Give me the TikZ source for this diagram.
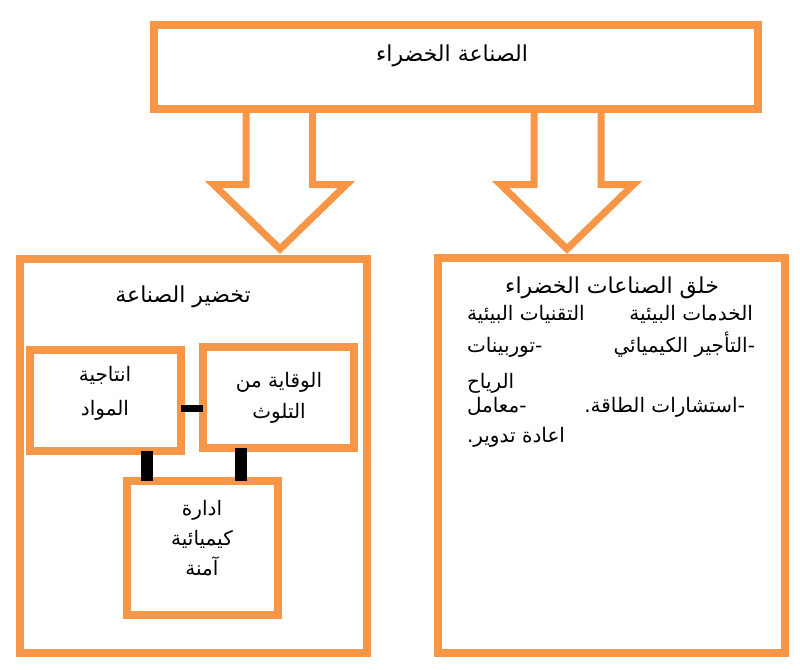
\documentclass[tikz,border=0pt]{standalone}
\usepackage{fontspec}
\newfontfamily\arabicfont[Script=Arabic]{DejaVu Sans}
\TeXXeTstate=1
\usetikzlibrary{calc}
\definecolor{org}{HTML}{F79646}
\newcommand{\AR}[1]{\beginR #1\endR}
\begin{document}
\begin{tikzpicture}[x=1pt,y=-1pt,
  obox/.style={draw=org,line width=8pt,inner sep=0pt,outer sep=0pt},
  barrow/.style={draw=org,line width=7pt,miter limit=10},
  conn/.style={draw=black,line width=#1},
  txt/.style={inner sep=0pt,outer sep=0pt,font=\arabicfont\fontsize{20}{24}\selectfont},
  ttl/.style={inner sep=0pt,outer sep=0pt,font=\arabicfont\fontsize{22}{26}\selectfont}]
\useasboundingbox[fill=white] (0,0) rectangle (800,669);
% boxes
\node[obox,minimum width=604pt,minimum height=83pt] (top) at (455.5,67) {};
\node[obox,minimum width=347pt,minimum height=394pt] (left) at (193.5,456) {};
\node[obox,minimum width=347.5pt,minimum height=395pt] (right) at (611.25,455) {};
\node[obox,minimum width=151pt,minimum height=101pt] (A) at (105.5,400) {};
\node[obox,minimum width=151pt,minimum height=101.5pt] (B) at (278.5,397.25) {};
\node[obox,minimum width=151pt,minimum height=134pt] (C) at (202,548) {};
% block arrows
\draw[barrow] (top.south -| 246,0) -- (246,184.5) -- (213.5,184.5) -- (280,249)
  -- (346.5,184.5) -- (312.5,184.5) -- (top.south -| 312.5,0);
\draw[barrow] (top.south -| 534,0) -- (534,184.5) -- (500.5,184.5) -- (567,249)
  -- (633.5,184.5) -- (601,184.5) -- (top.south -| 601,0);
% connectors
\draw[conn=7pt] (A.east |- 0,408) -- (B.west |- 0,408);
\draw[conn=12pt] (A.south -| 146.5,0) -- (C.north -| 146.5,0);
\draw[conn=12pt] (B.south -| 240.5,0) -- (C.north -| 240.5,0);
% texts
\node[ttl,anchor=base] (t0) at (452,62) {\AR{الصناعة الخضراء}};
\node[ttl,anchor=base] (t1) at (183,302) {\AR{تخضير الصناعة}};
\node[txt,anchor=base] (a1) at (105,381) {\AR{انتاجية}};
\node[txt,anchor=base] (a2) at (105,415) {\AR{المواد}};
\node[txt,anchor=base] (b1) at (279,387) {\AR{الوقاية من}};
\node[txt,anchor=base] (b2) at (279,418) {\AR{التلوث}};
\node[txt,anchor=base] (c1) at (202,515) {\AR{ادارة}};
\node[txt,anchor=base] (c2) at (202,545) {\AR{كيميائية}};
\node[txt,anchor=base] (c3) at (202,575) {\AR{آمنة}};
\node[ttl,anchor=base] (r0) at (612,293) {\AR{خلق الصناعات الخضراء}};
\node[txt,anchor=base east] (r1) at (753,320) {\AR{الخدمات البيئية}};
\node[txt,anchor=base west] (r2) at (467,320) {\AR{التقنيات البيئية}};
\node[txt,anchor=base east] (r3) at (755,352) {\AR{-التأجير الكيميائي}};
\node[txt,anchor=base west] (r4) at (467,352) {\AR{-توربينات}};
\node[txt,anchor=base west] (r5) at (467,388) {\AR{الرياح}};
\node[txt,anchor=base east] (r6) at (745,412) {\AR{-استشارات الطاقة.}};
\node[txt,anchor=base west] (r7) at (467,412) {\AR{-معامل}};
\node[txt,anchor=base west] (r8) at (467,442) {\AR{اعادة تدوير.}};
\end{tikzpicture}
\end{document}
